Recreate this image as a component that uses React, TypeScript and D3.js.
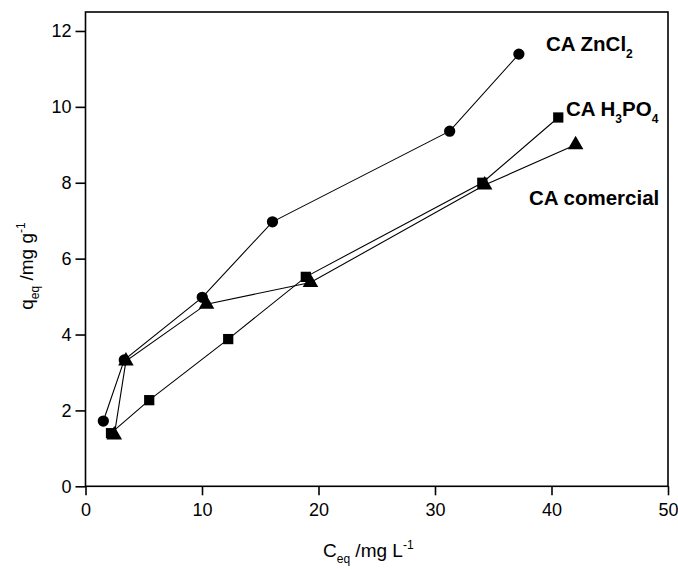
import React, { useEffect, useRef } from "react";
import * as d3 from "d3";

const zncl2X = [1.53, 3.33, 10.02, 16.05, 31.26, 37.2];
const zncl2Y = [1.72, 3.33, 4.98, 6.97, 9.36, 11.39];
const h3po4X = [2.19, 5.47, 12.25, 18.91, 34.06, 40.58];
const h3po4Y = [1.4, 2.27, 3.88, 5.52, 8.0, 9.72];
const comX = [2.47, 3.47, 10.39, 19.31, 34.26, 42.07];
const comY = [1.35, 3.3, 4.8, 5.37, 7.94, 9.0];
const xTicks = [0, 10, 20, 30, 40, 50];
const yTicks = [0, 2, 4, 6, 8, 10, 12];

const W = 678;
const H = 569;
const left = 85.5;
const right = 668;
const top = 12;
const bottom = 486.3;
const FONT = "'Liberation Sans', Arial, sans-serif";

export default function App() {
  const ref = useRef<SVGSVGElement>(null);
  useEffect(() => {
    document.body.style.margin = "0";
    const svg = d3.select(ref.current).select<SVGGElement>("g.plot");
    svg.selectAll("*").remove();
    const x = d3.scaleLinear().domain([0, 50]).range([left, right]);
    const y = d3.scaleLinear().domain([0, 12.5]).range([bottom, top]);

    const xAxis = svg
      .append("g")
      .attr("transform", `translate(0,${bottom})`)
      .call(d3.axisBottom(x).tickValues(xTicks).tickSize(9).tickPadding(8).tickFormat(d3.format("d")));
    const yAxis = svg
      .append("g")
      .attr("transform", `translate(${left},0)`)
      .call(d3.axisLeft(y).tickValues(yTicks).tickSize(10).tickPadding(4).tickFormat(d3.format("d")));
    [xAxis, yAxis].forEach((a) => {
      a.select(".domain").remove();
      a.selectAll("line").attr("stroke", "#000").attr("stroke-width", 1.6);
      a.selectAll("text").attr("fill", "#000").style("font-family", FONT).style("font-size", "18px");
    });

    svg
      .append("rect")
      .attr("x", left)
      .attr("y", top)
      .attr("width", right - left)
      .attr("height", bottom - top)
      .attr("fill", "none")
      .attr("stroke", "#000")
      .attr("stroke-width", 1.6);

    const series = [
      { xs: zncl2X, ys: zncl2Y, sym: d3.symbolCircle, size: 100 },
      { xs: h3po4X, ys: h3po4Y, sym: d3.symbolSquare, size: 105 },
      { xs: comX, ys: comY, sym: d3.symbolTriangle, size: 105 },
    ];
    const line = d3
      .line<[number, number]>()
      .x((d) => x(d[0]))
      .y((d) => y(d[1]));
    series.forEach((s) => {
      const pts = s.xs.map((v, i) => [v, s.ys[i]] as [number, number]);
      svg.append("path").attr("d", line(pts)).attr("fill", "none").attr("stroke", "#000").attr("stroke-width", 1.1);
    });
    series.forEach((s) => {
      const pts = s.xs.map((v, i) => [v, s.ys[i]] as [number, number]);
      svg
        .append("g")
        .selectAll("path")
        .data(pts)
        .join("path")
        .attr("d", d3.symbol().type(s.sym).size(s.size)())
        .attr("transform", (d) => `translate(${x(d[0])},${y(d[1])})`)
        .attr("fill", "#000");
    });
  }, []);

  const lbl = { fontFamily: FONT, fontWeight: 700, fontSize: 20.5, fill: "#000" } as const;
  const ttl = { fontFamily: FONT, fontSize: 19, fill: "#000" } as const;

  return (
    <svg ref={ref} width={W} height={H} style={{ position: "absolute", left: 0, top: 0, display: "block" }}>
      <g className="plot" />
      <text x={546} y={51} style={lbl}>
        CA ZnCl
        <tspan dy={7} style={{ fontSize: 12 }}>2</tspan>
      </text>
      <text x={566} y={116} style={lbl}>
        CA H
        <tspan dy={7} style={{ fontSize: 12 }}>3</tspan>
        <tspan dy={-7}>PO</tspan>
        <tspan dy={7} style={{ fontSize: 12 }}>4</tspan>
      </text>
      <text x={529} y={205} style={lbl}>
        CA comercial
      </text>
      <text x={323} y={557} style={ttl}>
        C
        <tspan dy={6} style={{ fontSize: 12 }}>eq</tspan>
        <tspan dy={-6}> /mg L</tspan>
        <tspan dy={-8} style={{ fontSize: 12 }}>-1</tspan>
      </text>
      <text transform="translate(33,266) rotate(-90)" textAnchor="middle" style={ttl}>
        q
        <tspan dy={6} style={{ fontSize: 12 }}>eq</tspan>
        <tspan dy={-6}> /mg g</tspan>
        <tspan dy={-8} style={{ fontSize: 12 }}>-1</tspan>
      </text>
    </svg>
  );
}
